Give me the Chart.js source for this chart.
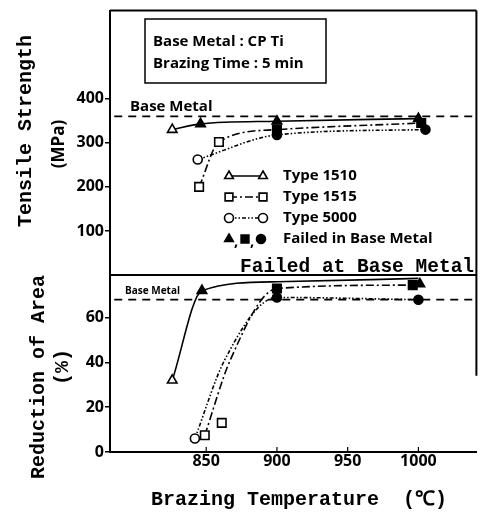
<!DOCTYPE html>
<html>
<head>
<meta charset="utf-8">
<script src="https://cdn.jsdelivr.net/npm/chart.js@4.4.1/dist/chart.umd.min.js"></script>
<style>
  html, body { margin: 0; padding: 0; background: #fff; }
  #wrap { width: 484px; height: 513px; }
</style>
</head>
<body>
<div id="wrap"><canvas id="chart" width="484" height="513"></canvas></div>
<script>
// ---- values ----
const tempTicks = [850, 900, 950, 1000];
const tsTicks = [100, 200, 300, 400];
const raTicks = [0, 20, 40, 60];

const baseMetalTS = 360;  // MPa
const baseMetalRA = 68;   // %

// Tensile strength (MPa)
const ts1510Temp = [826, 846, 900, 1000];
const ts1510 = [330, 343, 349, 355];
const ts1510Failed = [false, true, true, true];

const ts1515Temp = [845, 859, 900, 1002];
const ts1515 = [200, 302, 330, 345];
const ts1515Failed = [false, false, true, true];

const ts5000Temp = [844, 900, 1005];
const ts5000 = [262, 318, 330];
const ts5000Failed = [false, true, true];

// Reduction of area (%) - measured points
const ra1510Temp = [826, 847, 1001];
const ra1510 = [32, 72, 75];
const ra1510Failed = [false, true, true];

const ra1515Temp = [849, 861, 900, 996];
const ra1515 = [7.5, 13, 73, 74.5];
const ra1515Failed = [false, false, true, true];

const ra5000Temp = [842, 900, 1000];
const ra5000 = [6, 69, 68];
const ra5000Failed = [false, true, true];

// Reduction of area (%) - hand-drawn trend curves
const ra1510CurveTemp = [826, 847, 900, 1000];
const ra1510Curve = [32, 72, 76, 77.5];
const ra1515CurveTemp = [849, 867, 900, 996];
const ra1515Curve = [7.5, 41, 73, 74.5];
const ra5000CurveTemp = [842, 863, 900, 1000];
const ra5000Curve = [6, 41, 69, 68];

const dash1510 = [];
const dash1515 = [8, 3, 2, 3];
const dash5000 = [4, 2, 1.5, 2, 1.5, 2];

const SANS = "'Open Sans', 'Noto Sans', sans-serif";
const MONO = "'Liberation Mono', 'DejaVu Sans Mono', monospace";

function pts(temps, vals) {
    return temps.map((t, i) => ({ x: t, y: vals[i] }));
}

function markerSet(label, temps, vals, failed, style, axis) {
    return {
        label: label,
        data: pts(temps, vals),
        yAxisID: axis,
        showLine: false,
        order: 0,
        pointStyle: style,
        pointRadius: style === 'rect' ? 6 : (style === 'triangle' ? 5.5 : 4.5),
        pointBorderColor: '#000',
        pointBorderWidth: 1.6,
        pointBackgroundColor: failed.map(f => f ? '#000' : '#fff'),
    };
}

function curveSet(label, temps, vals, dash, axis) {
    return {
        label: label,
        data: pts(temps, vals),
        yAxisID: axis,
        showLine: true,
        order: 1,
        borderColor: '#000',
        borderWidth: 1.6,
        borderDash: dash,
        pointRadius: 0,
        cubicInterpolationMode: 'monotone',
        fill: false,
    };
}

function baseLine(axis, value) {
    return {
        label: 'Base Metal',
        data: [{ x: 785, y: value }, { x: 1041, y: value }],
        yAxisID: axis,
        showLine: true,
        order: 2,
        borderColor: '#000',
        borderWidth: 1.8,
        borderDash: [8, 6],
        pointRadius: 0,
    };
}

const datasets = [
    // upper panel
    markerSet('Type 1510', ts1510Temp, ts1510, ts1510Failed, 'triangle', 'yTS'),
    markerSet('Type 1515', ts1515Temp, ts1515, ts1515Failed, 'rect', 'yTS'),
    markerSet('Type 5000', ts5000Temp, ts5000, ts5000Failed, 'circle', 'yTS'),
    curveSet('Type 1510', ts1510Temp, ts1510, dash1510, 'yTS'),
    curveSet('Type 1515', ts1515Temp, ts1515, dash1515, 'yTS'),
    curveSet('Type 5000', ts5000Temp, ts5000, dash5000, 'yTS'),
    baseLine('yTS', baseMetalTS),
    // lower panel
    markerSet('Type 1510', ra1510Temp, ra1510, ra1510Failed, 'triangle', 'yRA'),
    markerSet('Type 1515', ra1515Temp, ra1515, ra1515Failed, 'rect', 'yRA'),
    markerSet('Type 5000', ra5000Temp, ra5000, ra5000Failed, 'circle', 'yRA'),
    curveSet('Type 1510', ra1510CurveTemp, ra1510Curve, dash1510, 'yRA'),
    curveSet('Type 1515', ra1515CurveTemp, ra1515Curve, dash1515, 'yRA'),
    curveSet('Type 5000', ra5000CurveTemp, ra5000Curve, dash5000, 'yRA'),
    baseLine('yRA', baseMetalRA),
];

// frame, labels, legend and axis titles
const decor = {
    id: 'decor',
    afterDraw(chart) {
        const { ctx, chartArea: a, scales } = chart;
        const yTS = scales.yTS, yRA = scales.yRA, x = scales.x;
        const drawPoint = Chart.helpers.drawPoint;
        ctx.save();
        ctx.strokeStyle = '#000';
        ctx.fillStyle = '#000';

        // frame
        ctx.lineWidth = 2;
        ctx.beginPath();
        ctx.moveTo(a.left, a.top); ctx.lineTo(a.right, a.top);
        ctx.moveTo(a.left, yTS.bottom); ctx.lineTo(a.right, yTS.bottom);
        ctx.moveTo(a.right, a.top); ctx.lineTo(a.right, yRA.getPixelForValue(34));
        ctx.stroke();

        // small inward ticks on the temperature axis
        ctx.lineWidth = 1.2;
        ctx.beginPath();
        tempTicks.forEach(t => {
            const px = x.getPixelForValue(t);
            ctx.moveTo(px, a.bottom - 1); ctx.lineTo(px, a.bottom - 5);
        });
        ctx.stroke();

        // info box
        ctx.lineWidth = 1.5;
        ctx.strokeRect(145, 19, 181, 64);
        ctx.font = 'bold 15px ' + SANS;
        ctx.textBaseline = 'middle';
        ctx.textAlign = 'left';
        ctx.fillText('Base Metal : CP Ti', 153, 42);
        ctx.fillText('Brazing Time : 5 min', 153, 64);

        // base metal labels
        ctx.textBaseline = 'bottom';
        ctx.font = 'bold 15px ' + SANS;
        ctx.fillText('Base Metal', 130, yTS.getPixelForValue(baseMetalTS) - 2);
        ctx.font = 'bold 10px ' + SANS;
        ctx.fillText('Base Metal', 125, yRA.getPixelForValue(baseMetalRA) - 4);

        ctx.textBaseline = 'alphabetic';
        ctx.font = 'bold 19.5px ' + MONO;
        ctx.fillText('Failed at Base Metal', 240, yTS.bottom - 3);

        // legend
        const rows = [
            { text: 'Type 1510', style: 'triangle', r: 5, dash: dash1510 },
            { text: 'Type 1515', style: 'rect', r: 5.5, dash: dash1515 },
            { text: 'Type 5000', style: 'circle', r: 4.5, dash: dash5000 },
        ];
        const lx0 = 229, lx1 = 263, tx = 283;
        let ly = 176;
        ctx.font = 'bold 15px ' + SANS;
        ctx.textBaseline = 'middle';
        rows.forEach(row => {
            ctx.lineWidth = 1.6;
            ctx.setLineDash(row.dash);
            ctx.beginPath();
            ctx.moveTo(lx0, ly); ctx.lineTo(lx1, ly);
            ctx.stroke();
            ctx.setLineDash([]);
            ctx.fillStyle = '#fff';
            const opt = { pointStyle: row.style, radius: row.r, borderWidth: 1.6, rotation: 0 };
            drawPoint(ctx, opt, lx0, ly);
            drawPoint(ctx, opt, lx1, ly);
            ctx.fillStyle = '#000';
            ctx.fillText(row.text, tx, ly);
            ly += 21;
        });
        const filled = [['triangle', 5, 229], ['rect', 5.5, 245], ['circle', 4.5, 261]];
        filled.forEach(([s, r, px], i) => {
            drawPoint(ctx, { pointStyle: s, radius: r, borderWidth: 1, rotation: 0 }, px, ly);
            if (i < 2) ctx.fillText(',', px + 5, ly + 3);
        });
        ctx.fillText('Failed in Base Metal', tx, ly);

        // axis titles
        const vText = (txt, font, px, py) => {
            ctx.save();
            ctx.translate(px, py);
            ctx.rotate(-Math.PI / 2);
            ctx.font = font;
            ctx.textAlign = 'center';
            ctx.textBaseline = 'middle';
            ctx.fillText(txt, 0, 0);
            ctx.restore();
        };
        vText('Tensile Strength', 'bold 20px ' + MONO, 26, 131);
        vText('(MPa)', 'bold 17px ' + SANS, 59, 144);
        vText('Reduction of Area', 'bold 20px ' + MONO, 39, 377);
        vText('(%)', 'bold 20px ' + MONO, 63, 367);

        ctx.textAlign = 'center';
        ctx.textBaseline = 'middle';
        ctx.font = 'bold 20px ' + MONO;
        ctx.fillText('Brazing Temperature', 265, 500);
        ctx.fillText('(\u2103)', 425, 500);
        ctx.restore();
    }
};

const tickFont = { family: SANS, size: 16, weight: 'bold' };
const plainLabel = v => String(v);

new Chart(document.getElementById('chart'), {
    type: 'scatter',
    data: { datasets: datasets },
    options: {
        responsive: false,
        animation: false,
        layout: { padding: { top: 8, right: 2, left: 0, bottom: 0 } },
        plugins: {
            legend: { display: false },
            tooltip: { enabled: false },
        },
        scales: {
            x: {
                type: 'linear',
                min: 782,
                max: 1041,
                afterBuildTicks: s => { s.ticks = tempTicks.map(v => ({ value: v })); },
                afterFit: s => { s.height = 61; },
                grid: { drawOnChartArea: false, drawTicks: false },
                border: { color: '#000', width: 2 },
                ticks: { color: '#000', font: tickFont, padding: 0, callback: plainLabel },
            },
            yRA: {
                type: 'linear',
                position: 'left',
                stack: 'panels',
                stackWeight: 178,
                min: 0,
                max: 79,
                afterBuildTicks: s => { s.ticks = raTicks.map(v => ({ value: v })); },
                afterFit: s => { s.width = 110; },
                grid: { drawOnChartArea: false, tickLength: 5, color: '#000', lineWidth: 1.5 },
                border: { color: '#000', width: 2 },
                ticks: { color: '#000', font: tickFont, padding: 1, callback: plainLabel },
            },
            yTS: {
                type: 'linear',
                position: 'left',
                stack: 'panels',
                stackWeight: 266,
                min: 0,
                max: 600,
                afterBuildTicks: s => { s.ticks = tsTicks.map(v => ({ value: v })); },
                afterFit: s => { s.width = 110; },
                grid: { drawOnChartArea: false, tickLength: 5, color: '#000', lineWidth: 1.5 },
                border: { color: '#000', width: 2 },
                ticks: { color: '#000', font: tickFont, padding: 1, callback: plainLabel },
            },
        },
    },
    plugins: [decor],
});
</script>
</body>
</html>
